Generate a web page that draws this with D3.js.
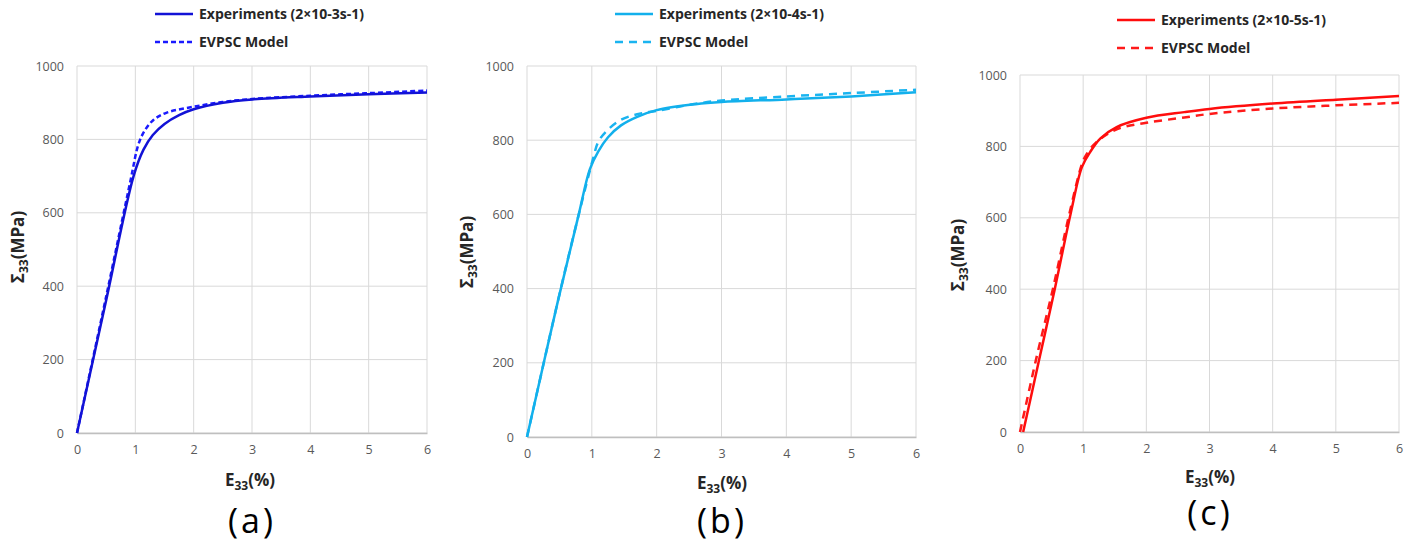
<!DOCTYPE html>
<html>
<head>
<meta charset="utf-8">
<script src="https://cdn.jsdelivr.net/npm/d3@7"></script>
<style>
  body { margin: 0; background: #fff; }
  svg { display: block; }
  .tick text { font-family: "Open Sans", sans-serif; font-size: 12.5px; fill: #595959; }
</style>
</head>
<body>
<svg id="chart" width="1418" height="545"></svg>
<script>
// strain (%) / stress (MPa)
let a_exp_x = [0, 0.5, 0.97, 1.14, 1.3, 1.5, 1.75, 2.0, 2.5, 3, 4, 5, 6]
let a_exp_y = [0, 362, 700, 772, 812, 842, 866, 882, 900, 909, 917, 923, 928]
let a_mod_x = [0, 0.5, 0.92, 1.05, 1.15, 1.31, 1.54, 2.0, 2.5, 3, 4, 5, 6]
let a_mod_y = [0, 372, 690, 785, 821, 853, 873, 889, 902, 910, 919, 926, 933]

let b_exp_x = [0, 0.48, 0.79, 0.97, 1.1, 1.25, 1.45, 1.7, 2.0, 2.6, 3, 4, 5, 6]
let b_exp_y = [0, 369, 594, 722, 770, 808, 840, 863, 881, 897, 903, 910, 918, 929]
let b_mod_x = [0, 0.48, 0.79, 1.02, 1.1, 1.23, 1.44, 1.7, 2.0, 2.6, 3, 4, 5, 6]
let b_mod_y = [0, 369, 594, 751, 796, 825, 854, 870, 879, 898, 907, 918, 927, 936]

let c_exp_x = [0.05, 0.3, 0.55, 0.8, 0.98, 1.11, 1.27, 1.53, 2.0, 2.6, 3, 4, 5, 6]
let c_exp_y = [0, 200, 400, 610, 742, 784, 822, 854, 880, 896, 905, 920, 931, 941]
let c_mod_x = [0, 0.25, 0.52, 0.78, 0.98, 1.05, 1.21, 1.53, 2.0, 2.6, 3, 4, 5, 6]
let c_mod_y = [0, 200, 400, 610, 750, 777, 812, 848, 866, 881, 891, 906, 915, 922]

let x_ticks = [0, 1, 2, 3, 4, 5, 6]
let y_ticks = [0, 200, 400, 600, 800, 1000]

let panels = [
    {label: "(a)", rate: "Experiments (2×10-3s-1)", exp: [a_exp_x, a_exp_y], mod: [a_mod_x, a_mod_y],
     expColor: "#1212d6", modColor: "#1a1aff", dash: "5,3",
     box: {left: 77, right: 427, top: 66, bottom: 433},
     legend: {x: 155, y: 14}, ylab: {x: 18, y: 247}, xlab: {x: 250, y: 486}, tag: {x: 252, y: 533}},
    {label: "(b)", rate: "Experiments (2×10-4s-1)", exp: [b_exp_x, b_exp_y], mod: [b_mod_x, b_mod_y],
     expColor: "#12b0ec", modColor: "#1ab4f0", dash: "8,6",
     box: {left: 527, right: 916, top: 66, bottom: 437},
     legend: {x: 615, y: 14}, ylab: {x: 467, y: 252}, xlab: {x: 722, y: 489}, tag: {x: 722, y: 533}},
    {label: "(c)", rate: "Experiments (2×10-5s-1)", exp: [c_exp_x, c_exp_y], mod: [c_mod_x, c_mod_y],
     expColor: "#ff0d0d", modColor: "#ff1a1a", dash: "8,6",
     box: {left: 1020, right: 1399, top: 75, bottom: 432},
     legend: {x: 1117, y: 20}, ylab: {x: 958, y: 255}, xlab: {x: 1210, y: 483}, tag: {x: 1210, y: 525}}
]

const svg = d3.select("#chart")

function draw_panel(p) {
    let g = svg.append("g")

    let xScale = d3.scaleLinear().domain([0, 6]).range([p.box.left, p.box.right])
    let yScale = d3.scaleLinear().domain([0, 1000]).range([p.box.bottom, p.box.top])

    // grid
    g.append("g")
        .selectAll("line.vgrid")
        .data(x_ticks)
        .enter()
        .append("line")
        .attr("x1", d => xScale(d)).attr("x2", d => xScale(d))
        .attr("y1", yScale(0)).attr("y2", yScale(1000))
        .attr("stroke", "#d9d9d9").attr("stroke-width", 1)

    g.append("g")
        .selectAll("line.hgrid")
        .data(y_ticks)
        .enter()
        .append("line")
        .attr("x1", xScale(0)).attr("x2", xScale(6))
        .attr("y1", d => yScale(d)).attr("y2", d => yScale(d))
        .attr("stroke", "#d9d9d9").attr("stroke-width", 1)

    // axes
    let xAxis = g.append("g")
        .attr("transform", `translate(0, ${p.box.bottom})`)
        .call(d3.axisBottom(xScale).tickValues(x_ticks).tickFormat(d3.format("d")).tickSize(0).tickPadding(12))
    xAxis.select(".domain").attr("stroke", "#bfbfbf").attr("stroke-width", 1.5)

    let yAxis = g.append("g")
        .attr("transform", `translate(${p.box.left}, 0)`)
        .call(d3.axisLeft(yScale).tickValues(y_ticks).tickFormat(d3.format("d")).tickSize(0).tickPadding(13))
    yAxis.select(".domain").remove()

    // curves
    let line = d3.line()
        .x(d => xScale(d[0]))
        .y(d => yScale(d[1]))
        .curve(d3.curveCatmullRom.alpha(0.5))

    let modPts = p.mod[0].map((v, i) => [v, p.mod[1][i]])
    let expPts = p.exp[0].map((v, i) => [v, p.exp[1][i]])

    g.append("path")
        .attr("d", line(modPts))
        .attr("fill", "none")
        .attr("stroke", p.modColor)
        .attr("stroke-width", 2.5)
        .attr("stroke-dasharray", p.dash)

    g.append("path")
        .attr("d", line(expPts))
        .attr("fill", "none")
        .attr("stroke", p.expColor)
        .attr("stroke-width", 2.5)

    // legend
    let leg = g.append("g").attr("transform", `translate(${p.legend.x}, ${p.legend.y})`)
    leg.append("line").attr("x1", 0).attr("x2", 38).attr("y1", 0).attr("y2", 0)
        .attr("stroke", p.expColor).attr("stroke-width", 2.5)
    leg.append("line").attr("x1", 0).attr("x2", 38).attr("y1", 28).attr("y2", 28)
        .attr("stroke", p.modColor).attr("stroke-width", 2.5).attr("stroke-dasharray", p.dash)
    leg.append("text").attr("x", 44).attr("y", 0).attr("dy", "0.35em")
        .style("font-family", "'Open Sans', sans-serif").style("font-weight", "bold")
        .style("font-size", "14px").attr("fill", "#262626")
        .text(p.rate)
    leg.append("text").attr("x", 44).attr("y", 28).attr("dy", "0.35em")
        .style("font-family", "'Open Sans', sans-serif").style("font-weight", "bold")
        .style("font-size", "14px").attr("fill", "#262626")
        .text("EVPSC Model")

    // axis titles
    let yl = g.append("text")
        .attr("transform", `translate(${p.ylab.x}, ${p.ylab.y}) rotate(-90)`)
        .attr("text-anchor", "middle").attr("dy", "0.35em")
        .style("font-family", "'Open Sans', sans-serif").style("font-weight", "bold")
        .style("font-size", "17px").attr("fill", "#262626")
    yl.append("tspan").text("Σ")
    yl.append("tspan").text("33").style("font-size", "12px").attr("dy", "4")
    yl.append("tspan").text("(MPa)").attr("dy", "-4")

    let xl = g.append("text")
        .attr("x", p.xlab.x).attr("y", p.xlab.y)
        .attr("text-anchor", "middle")
        .style("font-family", "'Open Sans', sans-serif").style("font-weight", "bold")
        .style("font-size", "17px").attr("fill", "#262626")
    xl.append("tspan").text("E")
    xl.append("tspan").text("33").style("font-size", "12px").attr("dy", "4")
    xl.append("tspan").text("(%)").attr("dy", "-4")

    g.append("text")
        .attr("x", p.tag.x).attr("y", p.tag.y)
        .attr("text-anchor", "middle")
        .style("font-family", "'Open Sans', sans-serif")
        .style("font-size", "34px").style("letter-spacing", "3px").attr("fill", "#000")
        .text(p.label)
}

panels.forEach(draw_panel)
</script>
</body>
</html>
